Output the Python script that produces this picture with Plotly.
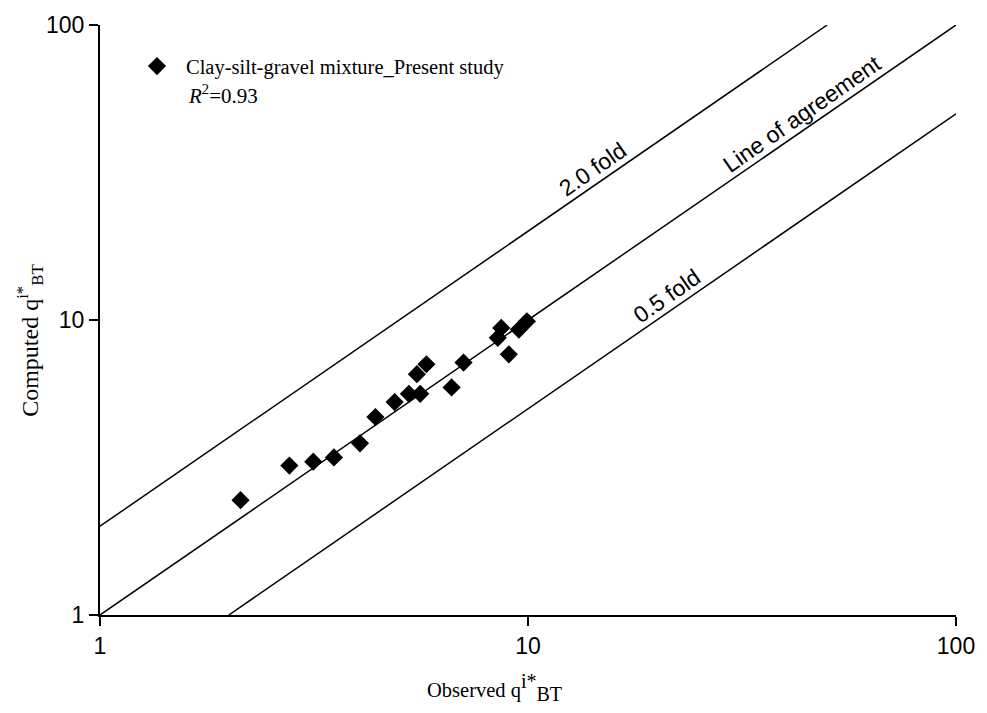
import math
import plotly.graph_objects as go

# Data
observed = [2.13, 2.77, 3.15, 3.52, 4.05, 4.40, 4.88, 5.27, 5.60, 5.50, 5.79, 6.63, 7.07, 8.50, 8.66, 9.02, 9.52, 9.94]
computed = [2.45, 3.21, 3.31, 3.42, 3.82, 4.69, 5.27, 5.62, 5.62, 6.55, 7.08, 5.91, 7.17, 8.70, 9.40, 7.65, 9.28, 9.90]

agree_x = [1, 100]
agree_y = [1, 100]
fold2_x = [1, 50]
fold2_y = [2, 100]
fold05_x = [2, 100]
fold05_y = [1, 50]

tick_vals = [1, 10, 100]
tick_text = ["1", "10", "100"]

series_name = "Clay-silt-gravel mixture_Present study"
r2_text = "<i>R</i><sup>2</sup>=0.93"
x_title = "Observed q<sup><span style='font-size:20px'>i*</span></sup><sub><span style='font-size:20px'>BT</span></sub>"
y_title = "Computed q<sup>i*</sup><sub>BT</sub>"

SANS = "Liberation Sans, Arial, sans-serif"
SERIF = "Liberation Serif, Times New Roman, serif"

fig = go.Figure()
line_style = dict(color="black", width=1.5)
fig.add_trace(go.Scatter(x=agree_x, y=agree_y, mode="lines", line=line_style, showlegend=False, hoverinfo="skip"))
fig.add_trace(go.Scatter(x=fold2_x, y=fold2_y, mode="lines", line=line_style, showlegend=False, hoverinfo="skip"))
fig.add_trace(go.Scatter(x=fold05_x, y=fold05_y, mode="lines", line=line_style, showlegend=False, hoverinfo="skip"))
fig.add_trace(go.Scatter(x=observed, y=computed, mode="markers", name=series_name,
                         marker=dict(symbol="diamond", size=14, color="black", line=dict(width=0))))

ang = -34.8
lab_font = dict(family=SANS, size=23, color="black")
def line_label(text, x, y):
    fig.add_annotation(x=x, y=y, xref="x", yref="y", text=text, showarrow=False,
                       textangle=ang, font=lab_font, xshift=-8, yshift=12)

line_label("2.0 fold", math.log10(14.8), math.log10(29.6))
line_label("Line of agreement", math.log10(45.5), math.log10(45.5))
line_label("0.5 fold", math.log10(22.0), math.log10(11.0))

fig.add_annotation(x=(186 - 100) / 857, y=(615 - 89) / 596, xref="paper", yref="paper", text=r2_text,
                   showarrow=False, xanchor="left", yanchor="middle",
                   font=dict(family=SERIF, size=21, color="black"))

# axis titles
fig.add_annotation(x=(425 - 100) / 857, y=(615 - 688) / 596, xref="paper", yref="paper", text=x_title,
                   showarrow=False, xanchor="left", yanchor="middle",
                   font=dict(family=SERIF, size=20.5, color="black"))
fig.add_annotation(x=(30 - 100) / 857, y=(615 - 338) / 596, xref="paper", yref="paper", text=y_title,
                   showarrow=False, xanchor="center", yanchor="middle", textangle=-90,
                   font=dict(family=SERIF, size=24, color="black"))

axis_common = dict(type="log", range=[0, 2], tickvals=tick_vals, ticktext=tick_text,
                   showgrid=False, zeroline=False, showline=True, linecolor="black", linewidth=2,
                   ticks="outside", ticklen=9, tickwidth=2, tickcolor="black",
                   tickfont=dict(family=SANS, size=23, color="black"),
                   mirror=False)

fig.update_layout(
    width=987, height=713,
    margin=dict(l=100, r=30, t=19, b=98),
    paper_bgcolor="white", plot_bgcolor="white",
    xaxis=dict(**axis_common),
    yaxis=dict(**axis_common),
    legend=dict(x=0.0327, y=0.964, xanchor="left", yanchor="top", bgcolor="rgba(0,0,0,0)",
                itemwidth=48,
                font=dict(family=SERIF, size=20.5, color="black")),
    showlegend=True,
)

fig.write_html("out.html")
